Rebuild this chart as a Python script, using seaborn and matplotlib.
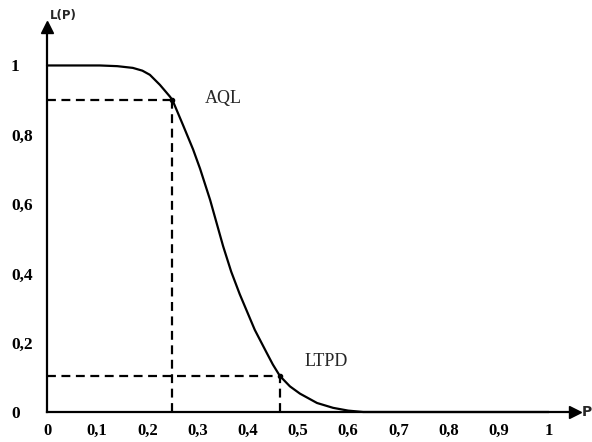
import matplotlib
matplotlib.use("Agg")
import matplotlib.pyplot as plt
import seaborn as sns
import pandas as pd

# --- data ---
p_values = [0.00, 0.105, 0.14, 0.171, 0.19, 0.205, 0.225, 0.245, 0.25, 0.271, 0.291,
            0.305, 0.325, 0.338, 0.351, 0.367, 0.384, 0.40, 0.414, 0.438, 0.45,
            0.464, 0.484, 0.504, 0.538, 0.57, 0.60, 0.63, 1.00]
lp_values = [1.000, 1.000, 0.998, 0.993, 0.985, 0.973, 0.944, 0.910, 0.900, 0.828, 0.758,
             0.702, 0.612, 0.545, 0.478, 0.405, 0.340, 0.285, 0.237, 0.170, 0.137,
             0.104, 0.074, 0.053, 0.026, 0.012, 0.004, 0.000, 0.000]
aql = (0.25, 0.90)
ltpd = (0.464, 0.104)
x_ticks = [0, 0.1, 0.2, 0.3, 0.4, 0.5, 0.6, 0.7, 0.8, 0.9, 1]
x_tick_labels = ["0", "0,1", "0,2", "0,3", "0,4", "0,5", "0,6", "0,7", "0,8", "0,9", "1"]
y_ticks = [0, 0.2, 0.4, 0.6, 0.8, 1]
y_tick_labels = ["0", "0,2", "0,4", "0,6", "0,8", "1"]

sns.set_style("white")
plt.rcParams["font.family"] = ["Liberation Serif", "DejaVu Serif"]

fig = plt.figure(figsize=(5.92, 4.42), dpi=100)
W, H = 592, 442
x0_px, x1_px = 47, 575
y0_px, y1_px = 412, 27
ax = fig.add_axes([x0_px / W, 1 - y0_px / H, (x1_px - x0_px) / W, (y0_px - y1_px) / H])
ax.set_xlim(0, 1.052)
ax.set_ylim(0, 1.111)

df = pd.DataFrame({"p": p_values, "lp": lp_values})
sns.lineplot(data=df, x="p", y="lp", ax=ax, color="black", linewidth=1.6,
             estimator=None, sort=False, clip_on=False)

dash = dict(color="black", linewidth=1.6, linestyle=(0, (4, 2.5)))
for (px, py) in (aql, ltpd):
    ax.plot([0, px], [py, py], **dash)
    ax.plot([px, px], [0, py], **dash)
    ax.plot([px], [py], "o", color="black", markersize=3)

ax.text(0.315, 0.906, "AQL", fontsize=13, va="center", ha="left")
ax.text(0.514, 0.147, "LTPD", fontsize=13, va="center", ha="left")

for s in ("top", "right"):
    ax.spines[s].set_visible(False)
for s in ("left", "bottom"):
    ax.spines[s].set_color("black")
    ax.spines[s].set_linewidth(1.6)

# arrowheads
ax.plot(1, 0, ">", color="black", markersize=8, transform=ax.transAxes, clip_on=False)
ax.plot(0, 1, "^", color="black", markersize=8, transform=ax.transAxes, clip_on=False)

ax.text(1.013, 0, "P", transform=ax.transAxes, fontsize=10, fontweight="bold",
        family="DejaVu Sans", va="center", ha="left")
ax.text(0.03, 1.012, "L(P)", transform=ax.transAxes, fontsize=8.5, fontweight="bold",
        family="DejaVu Sans", va="bottom", ha="center")

ax.set_xticks(x_ticks)
ax.set_xticklabels(x_tick_labels, fontsize=12, fontweight="bold")
ax.set_yticks(y_ticks)
ax.set_yticklabels(y_tick_labels, fontsize=12.5, fontweight="bold")
ax.tick_params(axis="x", direction="out", length=4, width=1.3, pad=4, colors="black")
ax.tick_params(axis="y", direction="out", length=4, width=1.3, pad=22, colors="black")
for lab in ax.get_yticklabels():
    lab.set_horizontalalignment("left")
ax.set_xlabel("")
ax.set_ylabel("")

fig.savefig("out.png", dpi=100, facecolor="white")
